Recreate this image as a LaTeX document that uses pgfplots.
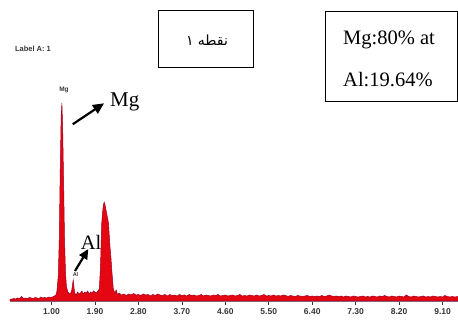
\documentclass[border=0pt]{standalone}
\usepackage{fontspec}
\setmainfont{Liberation Serif}
\setsansfont{Liberation Sans}
\newfontfamily\arabicfont[Script=Arabic]{DejaVu Sans}
\TeXXeTstate=1
\usepackage{pgfplots}
\pgfplotsset{compat=1.18}
\usepackage{pgfplotstable}
\usetikzlibrary{arrows.meta}
\definecolor{specfill}{RGB}{228,6,16}
\definecolor{specedge}{RGB}{160,0,35}
\definecolor{axisline}{RGB}{140,95,120}
\definecolor{ticklab}{RGB}{55,55,55}

\pgfplotstableread{
E h
0.14 1.5
0.18 2
0.22 2.5
0.26 2
0.30 3
0.34 2.5
0.38 4.5
0.42 2.5
0.46 3
0.50 2.5
0.54 3.5
0.58 3
0.62 2.5
0.66 3.5
0.70 3
0.74 2.5
0.78 4
0.82 3
0.86 3.5
0.90 3
0.94 4
0.98 3.5
1.02 4
1.06 5
1.09 6
1.11 9
1.14 25
1.16 60
1.18 130
1.20 185
1.215 198
1.23 175
1.25 120
1.27 60
1.29 28
1.31 14
1.34 9
1.37 7
1.40 8
1.42 11
1.44 18
1.45 21
1.465 14
1.48 8
1.51 6
1.54 9
1.57 7
1.60 8
1.63 10
1.66 7
1.69 9
1.72 8
1.75 10
1.78 7
1.81 9
1.84 8
1.87 10
1.90 9
1.93 8
1.96 10
1.99 12
2.01 30
2.02 44
2.04 78
2.07 95
2.09 99
2.11 96
2.14 88
2.18 78
2.21 55
2.23 44
2.25 30
2.28 12
2.31 8
2.34 11
2.37 6
2.40 8
2.45 6
2.50 7
2.55 5.5
2.60 7
2.65 6
2.70 7.5
2.75 6
2.80 6.5
2.85 5.5
2.90 7
2.95 6
3.00 6.5
3.05 5
3.10 6.5
3.15 5.5
3.20 7
3.25 6
3.30 5.5
3.35 6.5
3.40 5
3.45 6.5
3.50 5.5
3.55 6
3.60 5
3.65 6.5
3.70 5.5
3.75 6
3.80 5
3.85 6.5
3.90 5.5
3.95 6
4.00 5
4.05 5.5
4.10 6.5
4.15 5
4.20 6
4.25 5.5
4.30 5
4.35 6
4.40 5.5
4.45 6.5
4.50 5
4.55 5.5
4.60 6
4.65 5
4.70 5.5
4.75 6
4.80 5
4.85 5.5
4.90 6.5
4.95 5
5.00 5.5
5.05 5
5.10 6
5.15 5.5
5.20 5
5.25 6
5.30 5
5.35 5.5
5.40 6.5
5.45 5
5.50 5.5
5.55 5
5.60 6
5.65 5
5.70 5.5
5.75 5
5.80 6
5.85 5.5
5.90 4.5
5.95 5.5
6.00 5
6.05 4.5
6.10 5.5
6.15 5
6.20 4.5
6.25 5
6.30 5.5
6.35 4.5
6.40 5
6.45 4.5
6.50 5
6.55 4.5
6.60 5.5
6.65 4.5
6.70 5
6.75 6
6.80 5
6.85 4.5
6.90 5
6.95 4.5
7.00 5
7.05 4
7.10 5
7.15 4.5
7.20 4
7.25 5
7.30 4.5
7.35 4
7.40 4.5
7.45 5
7.50 4
7.55 4.5
7.60 4
7.65 5
7.70 4.5
7.75 4
7.80 5
7.85 4.5
7.90 5.5
7.95 4.5
8.00 4
8.05 5
8.10 4.5
8.15 4
8.20 5
8.25 4.5
8.30 4
8.35 6
8.40 4.5
8.45 4
8.50 5
8.55 4.5
8.60 4
8.65 4.5
8.70 5
8.75 4
8.80 4.5
8.85 4
8.90 5
8.95 4.5
9.00 4
9.05 4.5
9.10 4
9.15 5.5
9.20 4.5
9.25 4
9.30 4.5
9.35 4
9.42 4.5
}\spectrum

\begin{document}
\begin{tikzpicture}[x=1pt,y=1pt]
\useasboundingbox (0,0) rectangle (458,320);
\begin{axis}[
  at={(10pt,19pt)}, anchor=south west,
  scale only axis, width=448pt, height=220pt,
  xmin=0.14, xmax=9.42, ymin=0, ymax=220,
  axis x line=bottom, axis y line=none,
  x axis line style={-, color=axisline, line width=1.4pt},
  xtick={1.0,1.9,2.8,3.7,4.6,5.5,6.4,7.3,8.2,9.1},
  xticklabels={1.00,1.90,2.80,3.70,4.60,5.50,6.40,7.30,8.20,9.10},
  tick align=outside, major tick length=4pt,
  xtick style={color=ticklab, line width=0.6pt},
  xticklabel style={font=\sffamily\bfseries\fontsize{8.5}{10}\selectfont, color=ticklab},
]
\addplot[fill=specfill, draw=specedge, line width=0.5pt] table[x=E,y=h]{\spectrum} \closedcycle;
\end{axis}
% labels
\node[font=\sffamily\bfseries\fontsize{7.5}{9}\selectfont, color=ticklab] at (33,271) {Label A: 1};
\node[font=\sffamily\bfseries\fontsize{6.5}{8}\selectfont, color=ticklab] at (64,230) {Mg};
\node[font=\sffamily\bfseries\fontsize{5.5}{7}\selectfont, color=ticklab] at (75.5,45) {Al};
\node[anchor=base west, inner sep=0pt, font=\fontsize{21}{24}\selectfont] at (110,213.3) {Mg};
\node[anchor=base west, inner sep=0pt, font=\fontsize{20.5}{24}\selectfont] at (80.7,70) {Al};
\draw[line width=2.2pt, -{Triangle[length=11pt,width=10pt]}] (72.7,195.7) -- (104,216.7);
\draw[line width=2.2pt, -{Triangle[length=10pt,width=9pt]}] (75,49) -- (88.3,71);
% boxes
\draw[line width=1pt] (158,309) rectangle (253,252);
\node[font=\arabicfont\fontsize{14}{16}\selectfont] at (207,280) {\beginR نقطه ۱\endR};
\draw[line width=1pt] (325,308) rectangle (457,218);
\node[anchor=west, inner sep=0pt, font=\fontsize{20.5}{24}\selectfont] at (343,280) {Mg:80\% at};
\node[anchor=west, inner sep=0pt, font=\fontsize{20.5}{24}\selectfont] at (343,240) {Al:19.64\%};
\end{tikzpicture}
\end{document}
